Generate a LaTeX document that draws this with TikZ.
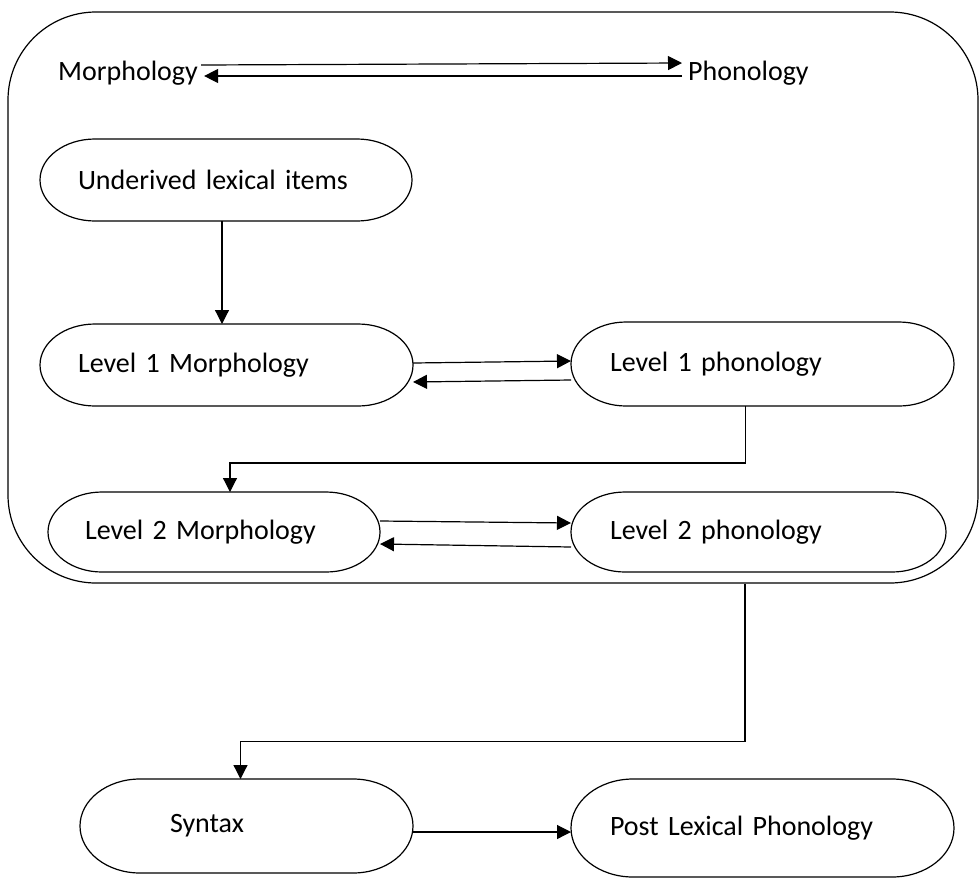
\documentclass[tikz,border=0pt]{standalone}
\usepackage{fontspec}
\setmainfont{Carlito}
\usetikzlibrary{arrows.meta}
\newcommand{\pillframe}[3]{%
  \draw[ln] ([xshift=#2]#1.north west) -- ([xshift=-#2]#1.north east)
    arc[start angle=90,end angle=-90,x radius=#2,y radius=#3]
    -- ([xshift=#2]#1.south west)
    arc[start angle=270,end angle=90,x radius=#2,y radius=#3] -- cycle;}
\begin{document}
\begin{tikzpicture}[x=1pt,y=-1pt,
  every node/.style={font=\fontsize{28}{34}\selectfont},
  ln/.style={line width=1.2pt},
  arr/.style={ln,-{Triangle[length=14pt,width=14pt]}},
  pill/.style={align=left,inner ysep=0pt,outer sep=0pt},
  lbl/.style={inner sep=0pt}]
\useasboundingbox (0,0) rectangle (980,879);
% outer lexical box
\node[draw,ln,rounded corners=88pt,minimum width=970pt,minimum height=571pt,inner sep=0pt] (lex) at (493,297.5) {};
% header
\node[lbl,anchor=base west] (morph) at (58,80) {Morphology};
\node[lbl,anchor=base west] (phon) at (688,80) {Phonology};
\draw[arr] ([xshift=3pt,yshift=15pt]morph.base east) -- ([xshift=-6pt,yshift=17pt]phon.base west);
\draw[arr] ([xshift=-6pt,yshift=4pt]phon.base west) -- ([xshift=6pt,yshift=4pt]morph.base east);
% pills
\node[pill,minimum height=82pt,inner xsep=38pt,text width=296pt] (under) at (226,180) {Underived lexical items};
\node[pill,minimum height=82pt,inner xsep=38pt,text width=297pt] (l1m) at (226.5,365) {Level 1 Morphology};
\node[pill,minimum height=84pt,inner xsep=39pt,text width=305pt] (l1p) at (762.5,364) {Level 1 phonology};
\node[pill,minimum height=80pt,inner xsep=37pt,text width=258pt] (l2m) at (214,532) {Level 2 Morphology};
\node[pill,minimum height=80pt,inner xsep=39pt,text width=297pt] (l2p) at (758.5,532) {Level 2 phonology};
\node[pill,minimum height=94pt,inner xsep=90pt,text width=153pt] (syn) at (246.5,826) {Syntax};
\node[pill,minimum height=98pt,inner xsep=39pt,text width=305pt] (plp) at (762.5,828) {Post Lexical Phonology};
\pillframe{under}{55pt}{41pt}
\pillframe{l1m}{55pt}{41pt}
\pillframe{l1p}{55pt}{42pt}
\pillframe{l2m}{54pt}{40pt}
\pillframe{l2p}{54pt}{40pt}
\pillframe{syn}{60pt}{47pt}
\pillframe{plp}{62pt}{49pt}
% connectors
\draw[arr] ([xshift=-4pt]under.south) -- ([xshift=-4.5pt]l1m.north);
\draw[arr] ([yshift=2pt]l1m.east) -- ([yshift=3pt]l1p.west);
\draw[arr] ([yshift=-16pt]l1p.west) -- ([yshift=-17pt]l1m.east);
\draw[arr] ([xshift=-17pt]l1p.south) -- ++(0,57) -| ([xshift=16pt]l2m.north);
\draw[arr] ([yshift=11pt]l2m.east) -- ([yshift=9pt]l2p.west);
\draw[arr] ([yshift=-15pt]l2p.west) -- ([yshift=-12pt]l2m.east);
\draw[arr] ([xshift=252pt]lex.south) -- ++(0,158) -| ([xshift=-6pt]syn.north);
\draw[arr] ([yshift=-6pt]syn.east) -- ([yshift=-4pt]plp.west);
\end{tikzpicture}
\end{document}
